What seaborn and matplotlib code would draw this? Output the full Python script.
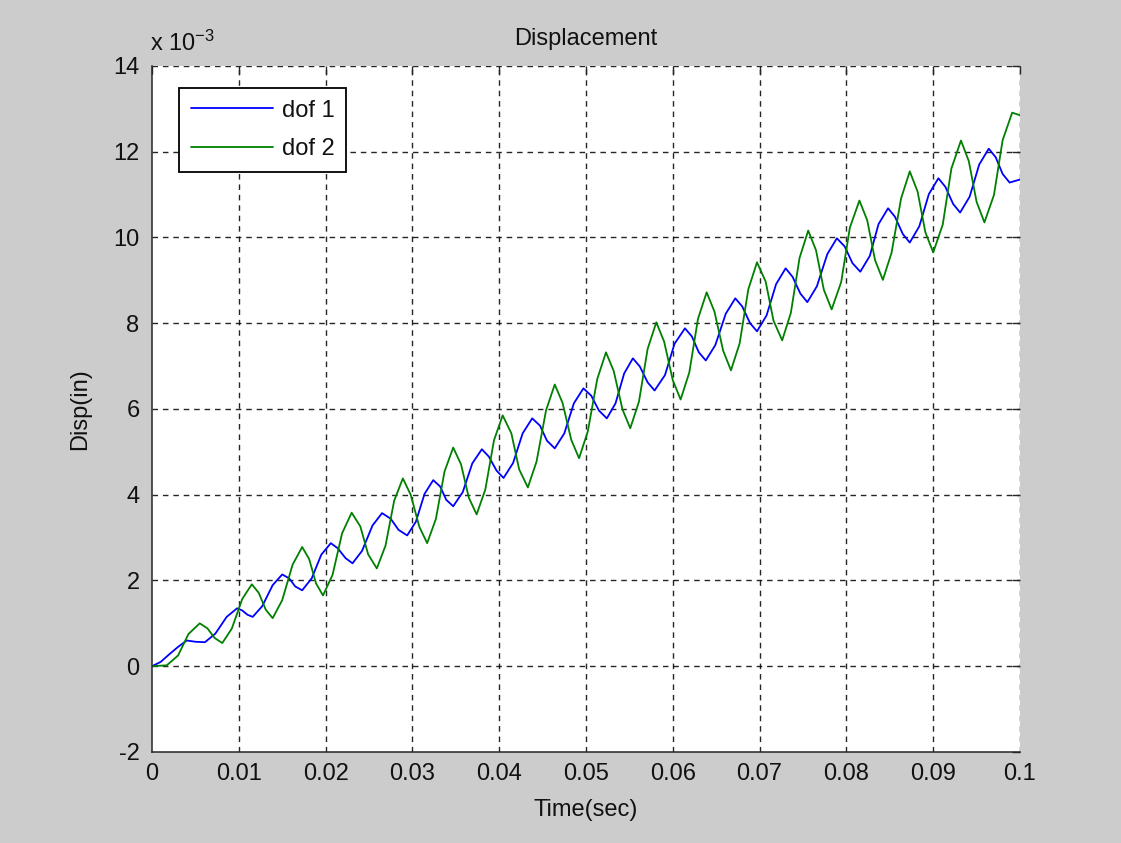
import pandas as pd
import matplotlib
matplotlib.use("Agg")
import matplotlib.pyplot as plt
import seaborn as sns

# values (displacement in units of 1e-3 in)
dof1_time = [0.0000, 0.0010, 0.0020, 0.0030, 0.0040, 0.0050, 0.0061,
             0.0073, 0.0086, 0.0098, 0.0104, 0.0110, 0.0116, 0.0127, 0.0139, 0.0150,
             0.0158, 0.0165, 0.0173, 0.0184, 0.0195, 0.0206, 0.0214, 0.0223, 0.0231,
             0.0242, 0.0254, 0.0265, 0.0275, 0.0284, 0.0294, 0.0304, 0.0314, 0.0324,
             0.0332, 0.0339, 0.0347, 0.0358, 0.0369, 0.0380, 0.0388, 0.0397, 0.0405,
             0.0416, 0.0427, 0.0438, 0.0447, 0.0455, 0.0464, 0.0475, 0.0486, 0.0497,
             0.0506, 0.0515, 0.0524, 0.0534, 0.0544, 0.0554, 0.0562, 0.0571, 0.0579,
             0.0591, 0.0602, 0.0614, 0.0622, 0.0630, 0.0638, 0.0649, 0.0661, 0.0672,
             0.0680, 0.0689, 0.0697, 0.0708, 0.0719, 0.0730, 0.0738, 0.0747, 0.0755,
             0.0766, 0.0778, 0.0789, 0.0798, 0.0807, 0.0816, 0.0827, 0.0837, 0.0848,
             0.0856, 0.0865, 0.0873, 0.0884, 0.0895, 0.0906, 0.0914, 0.0923, 0.0931,
             0.0942, 0.0953, 0.0964, 0.0972, 0.0980, 0.0988, 0.1000]
dof1_disp = [0.00, 0.10, 0.28, 0.45, 0.60, 0.57, 0.56,
             0.76, 1.15, 1.35, 1.30, 1.20, 1.15, 1.40, 1.89, 2.14,
             2.05, 1.86, 1.77, 2.05, 2.60, 2.87, 2.75, 2.52, 2.40,
             2.69, 3.28, 3.57, 3.44, 3.18, 3.05, 3.37, 4.02, 4.34,
             4.19, 3.88, 3.73, 4.06, 4.73, 5.06, 4.89, 4.56, 4.39,
             4.74, 5.43, 5.78, 5.61, 5.26, 5.08, 5.43, 6.13, 6.48,
             6.31, 5.96, 5.78, 6.13, 6.83, 7.18, 6.99, 6.62, 6.43,
             6.79, 7.52, 7.88, 7.69, 7.32, 7.13, 7.49, 8.22, 8.58,
             8.39, 8.00, 7.81, 8.18, 8.91, 9.28, 9.08, 8.69, 8.49,
             8.86, 9.61, 9.98, 9.79, 9.40, 9.20, 9.57, 10.31, 10.68,
             10.48, 10.08, 9.88, 10.26, 11.01, 11.38, 11.18, 10.78, 10.58,
             10.95, 11.70, 12.07, 11.87, 11.48, 11.28, 11.35]

dof2_time = [0.0000, 0.0017,
             0.0030, 0.0042, 0.0055, 0.0064, 0.0072, 0.0081, 0.0092, 0.0104, 0.0115,
             0.0123, 0.0131, 0.0139, 0.0150, 0.0162, 0.0173, 0.0181, 0.0189, 0.0197,
             0.0208, 0.0219, 0.0230, 0.0240, 0.0249, 0.0259, 0.0269, 0.0279, 0.0289,
             0.0298, 0.0308, 0.0317, 0.0327, 0.0337, 0.0347, 0.0356, 0.0365, 0.0374,
             0.0384, 0.0394, 0.0404, 0.0414, 0.0423, 0.0433, 0.0443, 0.0454, 0.0464,
             0.0473, 0.0483, 0.0492, 0.0502, 0.0513, 0.0523, 0.0532, 0.0542, 0.0551,
             0.0561, 0.0571, 0.0581, 0.0590, 0.0600, 0.0609, 0.0619, 0.0629, 0.0639,
             0.0648, 0.0658, 0.0667, 0.0677, 0.0687, 0.0697, 0.0707, 0.0716, 0.0726,
             0.0736, 0.0746, 0.0756, 0.0765, 0.0774, 0.0783, 0.0794, 0.0804, 0.0815,
             0.0824, 0.0833, 0.0842, 0.0852, 0.0863, 0.0873, 0.0882, 0.0891, 0.0900,
             0.0911, 0.0921, 0.0932, 0.0941, 0.0950, 0.0959, 0.0970, 0.0980, 0.0991,
             0.1000]
dof2_disp = [0.00, 0.02,
             0.25, 0.75, 1.00, 0.88, 0.66, 0.54, 0.88, 1.57, 1.91,
             1.71, 1.32, 1.12, 1.54, 2.37, 2.78, 2.50, 1.93, 1.65,
             2.13, 3.10, 3.58, 3.26, 2.61, 2.28, 2.81, 3.86, 4.38,
             4.00, 3.25, 2.87, 3.43, 4.54, 5.10, 4.71, 3.93, 3.54,
             4.12, 5.27, 5.85, 5.43, 4.59, 4.17, 4.77, 5.97, 6.57,
             6.14, 5.28, 4.85, 5.47, 6.70, 7.32, 6.88, 5.99, 5.55,
             6.17, 7.40, 8.02, 7.57, 6.67, 6.22, 6.85, 8.10, 8.72,
             8.27, 7.36, 6.90, 7.53, 8.79, 9.42, 8.97, 8.06, 7.60,
             8.24, 9.52, 10.16, 9.70, 8.78, 8.32, 8.96, 10.23, 10.86,
             10.40, 9.47, 9.01, 9.64, 10.91, 11.54, 11.07, 10.12, 9.65,
             10.30, 11.61, 12.26, 11.78, 10.83, 10.35, 10.99, 12.27, 12.91,
             12.85]

series_names = ["dof 1", "dof 2"]
x_ticks = [0, 0.01, 0.02, 0.03, 0.04, 0.05, 0.06, 0.07, 0.08, 0.09, 0.1]
x_tick_labels = ["0", "0.01", "0.02", "0.03", "0.04", "0.05", "0.06", "0.07", "0.08", "0.09", "0.1"]
y_ticks = [-2, 0, 2, 4, 6, 8, 10, 12, 14]

df = pd.concat([
    pd.DataFrame({"Time": dof1_time, "Disp": dof1_disp, "dof": series_names[0]}),
    pd.DataFrame({"Time": dof2_time, "Disp": dof2_disp, "dof": series_names[1]}),
], ignore_index=True)

sns.set_style("white")
plt.rcParams["font.family"] = ["Liberation Sans", "DejaVu Sans"]
plt.rcParams["mathtext.fontset"] = "custom"
plt.rcParams["mathtext.rm"] = "Liberation Sans"
plt.rcParams["mathtext.it"] = "Liberation Sans"
plt.rcParams["axes.unicode_minus"] = False

fs = 17
txt = "#111111"
fig = plt.figure(figsize=(11.21, 8.43), dpi=100, facecolor="#cccccc")
ax = fig.add_axes([0.1356, 0.108, 0.7743, 0.8138])
ax.set_facecolor("white")

sns.lineplot(data=df, x="Time", y="Disp", hue="dof", palette=["#0000ff", "#008000"],
             sort=False, estimator=None, linewidth=1.3, ax=ax)

ax.set_xlim(0, 0.1)
ax.set_ylim(-2, 14)
ax.set_xticks(x_ticks)
ax.set_xticklabels(x_tick_labels)
ax.set_yticks(y_ticks)

ax.grid(True, color="black", linestyle=(0, (4, 3.5)), linewidth=1.0, alpha=0.85)
# no dashed gridline on top of the solid left / bottom spines
ax.xaxis.get_gridlines()[0].set_visible(False)
ax.yaxis.get_gridlines()[0].set_visible(False)
for side in ["top", "right"]:
    ax.spines[side].set_visible(False)
for side in ["left", "bottom"]:
    ax.spines[side].set_color("#262626")
    ax.spines[side].set_linewidth(1.1)

ax.tick_params(direction="in", length=6, width=1.0, color="#262626",
               top=True, right=True, labelsize=fs, labelcolor=txt)
ax.tick_params(axis="x", pad=8)
ax.tick_params(axis="y", pad=9)

ax.set_title("Displacement", fontsize=fs, pad=15, color=txt)
ax.set_xlabel("Time(sec)", fontsize=fs, labelpad=10, color=txt)
ax.set_ylabel("Disp(in)", fontsize=fs, labelpad=16, color=txt)
ax.text(-0.002, 1.014, r"x 10$^{-3}$", transform=ax.transAxes, fontsize=fs,
        ha="left", va="bottom", color=txt)

leg = ax.legend(loc="upper left", bbox_to_anchor=(0.031, 0.968), borderaxespad=0,
                fontsize=fs, fancybox=False, framealpha=1, edgecolor="black",
                handlelength=3.5, handletextpad=0.35, labelspacing=0.7,
                borderpad=0.5, title=None)
leg.get_frame().set_linewidth(1.3)
for t in leg.get_texts():
    t.set_color(txt)

fig.savefig("out.png", dpi=100, facecolor=fig.get_facecolor())
